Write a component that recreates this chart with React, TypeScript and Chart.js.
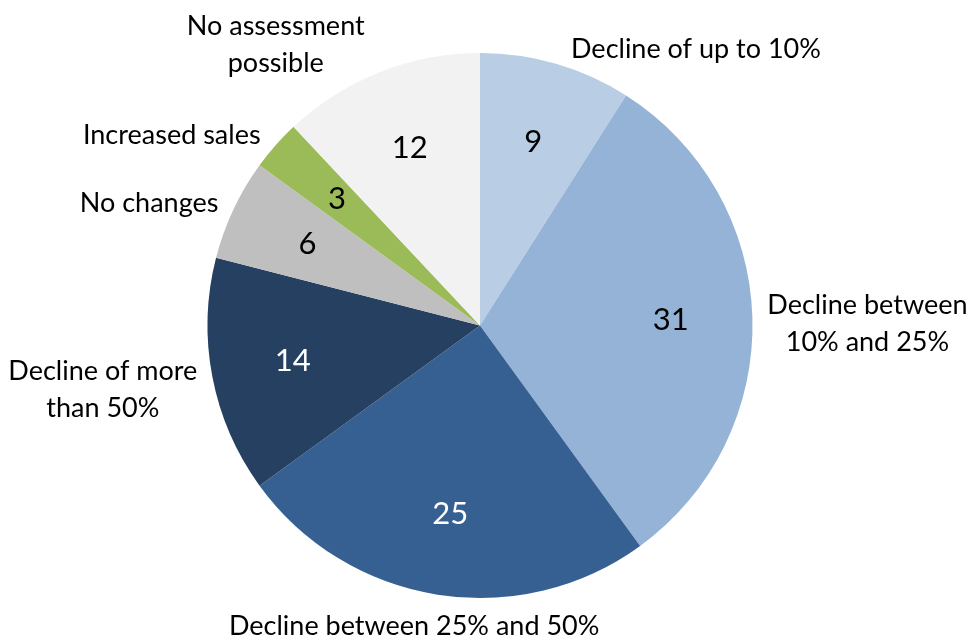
import React, { useEffect, useRef } from "react";
import { Chart, registerables } from "chart.js";

Chart.register(...registerables);

const categories = [
  "Decline of up to 10%",
  "Decline between 10% and 25%",
  "Decline between 25% and 50%",
  "Decline of more than 50%",
  "No changes",
  "Increased sales",
  "No assessment possible",
];
const labelLines = [
  ["Decline of up to 10%"],
  ["Decline between", "10% and 25%"],
  ["Decline between 25% and 50%"],
  ["Decline of more", "than 50%"],
  ["No changes"],
  ["Increased sales"],
  ["No assessment", "possible"],
];
const values = [9, 31, 25, 14, 6, 3, 12];
const colors = ["#B9CDE5", "#95B3D7", "#376092", "#254061", "#BFBFBF", "#9BBB59", "#F2F2F2"];
const valueTextColors = ["#000000", "#000000", "#FFFFFF", "#FFFFFF", "#000000", "#000000", "#000000"];

const FONT = "Lato, 'Open Sans', sans-serif";

const labelPlugin = {
  id: "pieLabels",
  afterDraw(chart: any) {
    const ctx = chart.ctx;
    const meta = chart.getDatasetMeta(0);
    ctx.save();
    meta.data.forEach((arc: any, i: number) => {
      const { x, y, startAngle, endAngle, outerRadius } = arc.getProps(
        ["x", "y", "startAngle", "endAngle", "outerRadius"],
        true
      );
      const mid = (startAngle + endAngle) / 2;
      const cx = Math.cos(mid);
      const cy = Math.sin(mid);
      // value inside
      ctx.font = `31px ${FONT}`;
      ctx.fillStyle = valueTextColors[i];
      ctx.textAlign = "center";
      ctx.textBaseline = "middle";
      const ri = outerRadius * 0.7;
      ctx.fillText(String(values[i]), x + cx * ri, y + cy * ri);

      // outer label
      ctx.font = `27px ${FONT}`;
      ctx.fillStyle = "#000000";
      const lines = labelLines[i];
      const lh = 37;
      const w = Math.max(...lines.map((l) => ctx.measureText(l).width));
      const h = lh * lines.length;
      const ex = x + cx * outerRadius;
      const ey = y + cy * outerRadius;
      let bx: number;
      let by: number;
      if (Math.abs(cx) > 0.25) {
        bx = ex + Math.sign(cx) * (w / 2 + 15);
        by = ey + cy * (h / 2) * 0.8 + (Math.abs(cy) < 0.3 ? 8 : 0);
      } else {
        bx = ex + cx * (w / 2) * 0.8;
        by = ey + cy * (h / 2 + 14);
      }
      ctx.textAlign = "center";
      ctx.textBaseline = "middle";
      lines.forEach((l, k) => {
        ctx.fillText(l, bx, by - h / 2 + lh * (k + 0.5));
      });
    });
    ctx.restore();
  },
};

export default function App() {
  const ref = useRef<HTMLCanvasElement | null>(null);
  useEffect(() => {
    document.body.style.margin = "0";
    if (!ref.current) return;
    const chart = new Chart(ref.current, {
      type: "pie",
      data: {
        labels: categories,
        datasets: [
          {
            data: values,
            backgroundColor: colors,
            borderWidth: 0,
            hoverOffset: 0,
          },
        ],
      },
      options: {
        animation: false,
        responsive: false,
        layout: { padding: { top: 53, bottom: 46, left: 207, right: 221 } },
        plugins: {
          legend: { display: false },
          tooltip: { enabled: false },
        },
      },
      plugins: [labelPlugin],
    });
    return () => chart.destroy();
  }, []);
  return (
    <div style={{ width: 974, height: 644, background: "#fff" }}>
      <canvas ref={ref} width={974} height={644} style={{ display: "block" }} />
    </div>
  );
}
